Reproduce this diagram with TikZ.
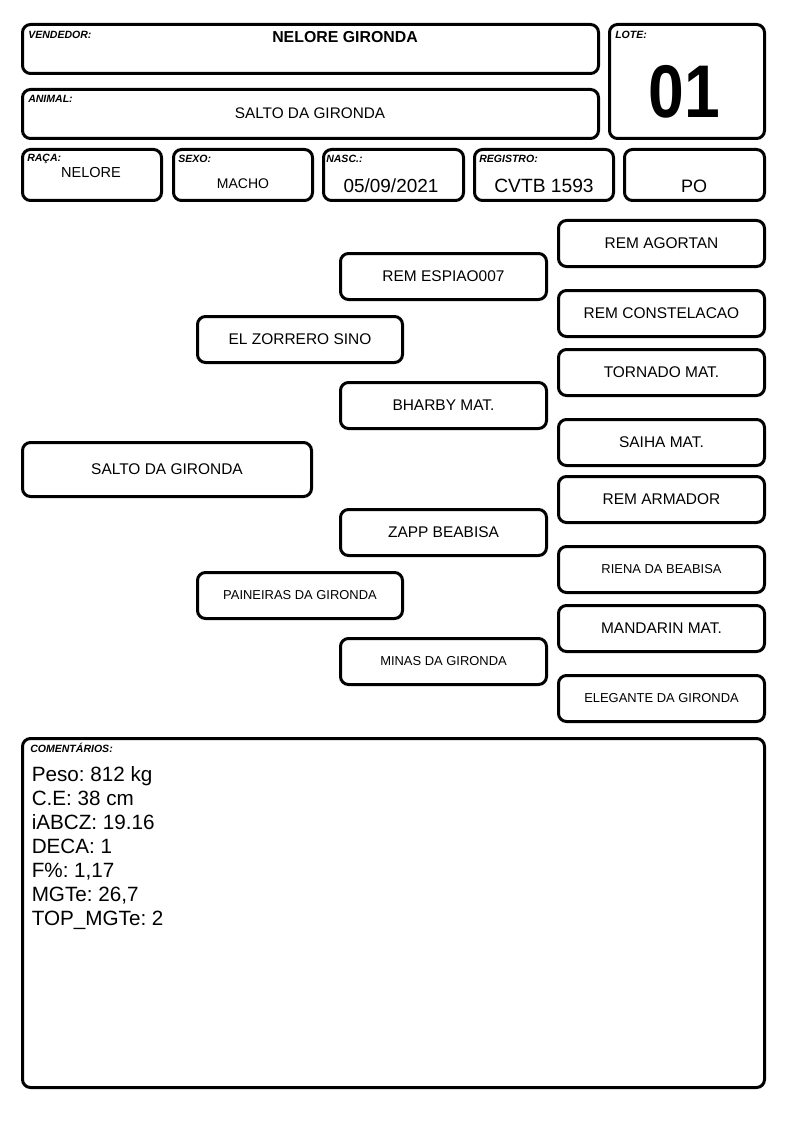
\documentclass[tikz,border=0pt]{standalone}
\usepackage{fontspec}
\setmainfont{Liberation Sans}
\frenchspacing
\tikzset{
 box/.style={draw, line width=2.25pt, rounded corners=6pt, inner sep=2pt, align=center},
 lbl/.style={font=\fontsize{7.9}{9}\selectfont\bfseries\itshape, anchor=base west, inner sep=0pt},
 val/.style={anchor=base, inner sep=0pt},
 ped/.style={font=\fontsize{11.6}{13}\selectfont},
 peds/.style={font=\fontsize{9.7}{11}\selectfont},
}
\newcommand\mybox[7]{\node[box,#7,minimum width={(#4-#2)*0.75pt},minimum height={(#5-#3)*0.75pt}] (#1) at ({(#2+#4)/2},{(#3+#5)/2}) {#6};}
\begin{document}
\begin{tikzpicture}[x=0.75pt,y=-0.75pt]
\useasboundingbox (0,0) rectangle (794,1123);
% header
\mybox{vend}{22.5}{24.5}{598.5}{73.5}{}{}
\mybox{lote}{609.5}{24.5}{764.5}{138.5}{}{}
\mybox{animal}{22.5}{89.5}{598.5}{138.5}{}{}
\mybox{raca}{22.5}{149.5}{161.5}{200.5}{}{}
\mybox{sexo}{173.5}{149.5}{312.5}{200.5}{}{}
\mybox{nasc}{323.5}{149.5}{463.5}{200.5}{}{}
\mybox{reg}{474.5}{149.5}{613.5}{200.5}{}{}
\mybox{po}{624.5}{149.5}{764.5}{200.5}{}{}
\node[lbl] (lvend) at (28,39) {VENDEDOR:};
\node[lbl] (llote) at (615,39) {LOTE:};
\node[lbl] (lanimal) at (28,103) {ANIMAL:};
\node[lbl] (lraca) at (27,162) {RAÇA:};
\node[lbl] (lsexo) at (178,163) {SEXO:};
\node[lbl] (lnasc) at (326,163) {NASC.:};
\node[lbl] (lreg) at (479,163) {REGISTRO:};
\node[val,font=\fontsize{11.9}{13}\selectfont\bfseries] (vvend) at (345,43) {NELORE GIRONDA};
\node[val] (vlote) at (684,118) {\scalebox{0.86}[1]{\fontsize{56}{56}\selectfont\bfseries 01}};
\node[val,font=\fontsize{11.5}{13}\selectfont] (vanimal) at (310,119) {SALTO DA GIRONDA};
\node[val,font=\fontsize{10.9}{12}\selectfont] (vraca) at (91,178) {NELORE};
\node[val,font=\fontsize{10.5}{12}\selectfont] (vsexo) at (243,189) {MACHO};
\node[val,font=\fontsize{14.2}{16}\selectfont] (vnasc) at (391,193) {05/09/2021};
\node[val,font=\fontsize{14.4}{16}\selectfont] (vreg) at (544,193) {CVTB 1593};
\node[val,font=\fontsize{13.5}{15}\selectfont] (vpo) at (694,193) {PO};
% pedigree
\mybox{p0}{22.5}{442.5}{311.5}{496.5}{SALTO DA GIRONDA}{ped}
\mybox{p1}{197.5}{316.5}{402.5}{362.5}{EL ZORRERO SINO}{ped}
\mybox{p2}{197.5}{572.5}{402.5}{618.5}{PAINEIRAS DA GIRONDA}{peds}
\mybox{p11}{340.5}{253.5}{546.5}{299.5}{REM ESPIAO007}{ped}
\mybox{p12}{340.5}{382.5}{546.5}{428.5}{BHARBY MAT.}{ped}
\mybox{p21}{340.5}{509.5}{546.5}{555.5}{ZAPP BEABISA}{ped}
\mybox{p22}{340.5}{638.5}{546.5}{684.5}{MINAS DA GIRONDA}{peds}
\mybox{p111}{558.5}{220.5}{764.5}{266.5}{REM AGORTAN}{ped}
\mybox{p112}{558.5}{290.5}{764.5}{336.5}{REM CONSTELACAO}{ped}
\mybox{p121}{558.5}{349.5}{764.5}{395.5}{TORNADO MAT.}{ped}
\mybox{p122}{558.5}{419.5}{764.5}{465.5}{SAIHA MAT.}{ped}
\mybox{p211}{558.5}{476.5}{764.5}{522.5}{REM ARMADOR}{ped}
\mybox{p212}{558.5}{546.5}{764.5}{592.5}{RIENA DA BEABISA}{peds}
\mybox{p221}{558.5}{605.5}{764.5}{651.5}{MANDARIN MAT.}{ped}
\mybox{p222}{558.5}{675.5}{764.5}{721.5}{ELEGANTE DA GIRONDA}{peds}
% comments
\mybox{com}{22.5}{738.5}{764.5}{1087.5}{}{}
\node[lbl] (lcom) at (30,752.7) {COMENTÁRIOS:};
\node[anchor=north west, inner sep=0pt, align=left, font=\fontsize{15.5}{18}\selectfont] (vcom) at (31.5,766.5) {Peso: 812 kg\\C.E: 38 cm\\iABCZ: 19.16\\DECA: 1\\F\%: 1,17\\MGTe: 26,7\\TOP\_MGTe: 2};
\end{tikzpicture}
\end{document}
